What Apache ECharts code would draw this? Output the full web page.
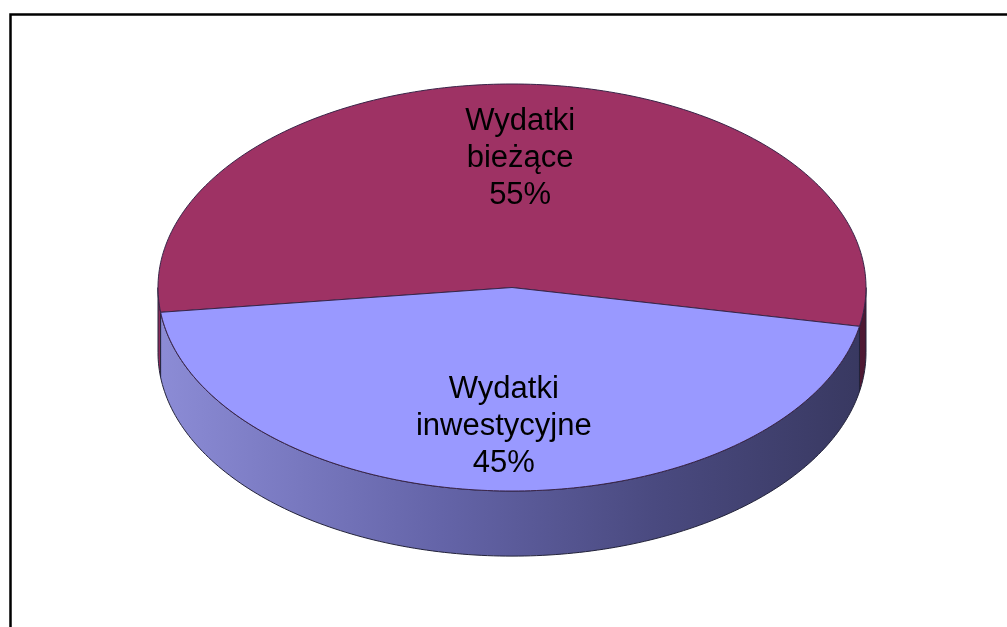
<!DOCTYPE html>
<html>
<head>
<meta charset="utf-8">
<script src="https://cdn.jsdelivr.net/npm/echarts@6/dist/echarts.min.js"></script>
<style>
  html, body { margin: 0; padding: 0; background: #fff; }
  #chart { width: 1007px; height: 627px; }
</style>
</head>
<body>
<div id="chart"></div>
<script>
// dane wykresu
var names = ["Wydatki\nbieżące", "Wydatki\ninwestycyjne"];
var values = [55, 45];

// wygląd
var topColors = ["#9e3264", "#9999ff"];
var startAngle = 173;   // stopnie, zgodnie z ruchem wskazówek (oś y w dół)
var depth = 0.32;       // grubość tortu w jednostkach osi y
var labelRadius = 0.66;
var labelShift = 5;     // px w dół

var total = values.reduce(function (a, b) { return a + b; }, 0);
var cum = [];
var acc = 0;
for (var i = 0; i < values.length; i++) {
  cum.push(acc);
  acc += values[i];
}

function rad(d) { return d * Math.PI / 180; }

// punkty łuku elipsy od a do b (stopnie), dy = przesunięcie w pikselach
function arc(api, a, b, dy) {
  var pts = [];
  var n = Math.max(2, Math.ceil(Math.abs(b - a)));
  for (var k = 0; k <= n; k++) {
    var t = a + (b - a) * k / n;
    var p = api.coord([Math.cos(rad(t)), -Math.sin(rad(t))]);
    pts.push([p[0], p[1] + dy]);
  }
  return pts;
}

function renderSlice(params, api) {
  var idx = params.dataIndex;
  var a = startAngle + 360 * cum[idx] / total;
  var b = a + 360 * values[idx] / total;
  var center = api.coord([0, 0]);
  var dpx = api.size([0, depth])[1];
  var left = api.coord([-1, 0])[0];
  var right = api.coord([1, 0])[0];
  var children = [];

  // boczna ściana - tylko przednia połowa (0..180 stopni)
  var sideFill = idx === 0
    ? new echarts.graphic.LinearGradient(left, 0, right, 0, [
        { offset: 0, color: "#8a2a58" },
        { offset: 1, color: "#4e1832" }
      ], true)
    : new echarts.graphic.LinearGradient(left, 0, right, 0, [
        { offset: 0, color: "#8c8cd6" },
        { offset: 0.4, color: "#6464a8" },
        { offset: 0.7, color: "#4a4a80" },
        { offset: 1, color: "#383860" }
      ], true);
  for (var k = 0; k < 2; k++) {
    var s = Math.max(a, k * 360);
    var e = Math.min(b, k * 360 + 180);
    if (e > s) {
      var pts = arc(api, s, e, 0).concat(arc(api, e, s, dpx));
      children.push({
        type: "polygon",
        z2: 1,
        shape: { points: pts },
        style: { fill: sideFill, stroke: "#23233a", lineWidth: 1 }
      });
    }
  }

  // wierzch
  children.push({
    type: "polygon",
    z2: 2,
    shape: { points: [center].concat(arc(api, a, b, 0)) },
    style: { fill: topColors[idx], stroke: "#3a2448", lineWidth: 1 }
  });

  // etykieta
  var m = (a + b) / 2;
  var lp = api.coord([labelRadius * Math.cos(rad(m)), -labelRadius * Math.sin(rad(m))]);
  children.push({
    type: "text",
    z2: 3,
    x: lp[0],
    y: lp[1] + labelShift,
    style: {
      text: names[idx] + "\n" + Math.round(values[idx] / total * 100) + "%",
      fill: "#000",
      font: "31px 'Liberation Sans', Arial, sans-serif",
      lineHeight: 37,
      align: "center",
      verticalAlign: "middle"
    }
  });

  return { type: "group", children: children };
}

var chart = echarts.init(document.getElementById("chart"));
chart.setOption({
  animation: false,
  backgroundColor: "#fff",
  grid: { left: 158, top: 84, width: 708, height: 407 },
  xAxis: { type: "value", min: -1, max: 1, show: false },
  yAxis: { type: "value", min: -1, max: 1, show: false },
  graphic: [{
    type: "rect",
    left: 8,
    top: 12,
    shape: { width: 1100, height: 700 },
    style: { fill: "none", stroke: "#000", lineWidth: 2.5 }
  }],
  series: [{
    type: "custom",
    coordinateSystem: "cartesian2d",
    renderItem: renderSlice,
    data: values.map(function (v, i) { return [0, 0, v]; }),
    encode: { x: 0, y: 1 },
    clip: false
  }]
});
</script>
</body>
</html>
